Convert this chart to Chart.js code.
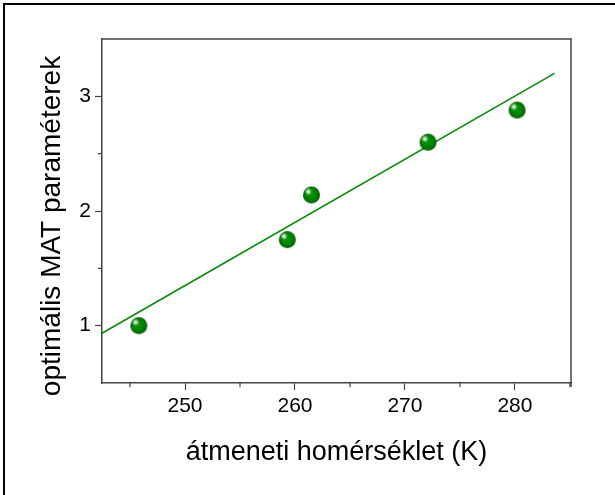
<!DOCTYPE html>
<html>
<head>
<meta charset="utf-8">
<script src="https://cdn.jsdelivr.net/npm/chart.js@4"></script>
<style>
  html, body { margin: 0; padding: 0; background: #fff; }
  #chart { display: block; }
</style>
</head>
<body>
<canvas id="chart" width="615" height="495"></canvas>
<script>
// measured points
const tempK = [245.8, 259.3, 261.5, 272.1, 280.2];
const matParam = [1.0, 1.75, 2.14, 2.6, 2.88];
// fitted line ends
const fitTemp = [242.45, 283.6];
const fitParam = [0.934, 3.2];
const xMajorTicks = [250, 260, 270, 280];
const xMinorTicks = [245, 255, 265, 275, 285];
const yMajorTicks = [1, 2, 3];
const yMinorTicks = [1.5, 2.5];
const yTitle = 'optimális MAT paraméterek';

const axisColor = '#444';
const fontFamily = "'Liberation Sans', Arial, sans-serif";

function makeBall(r) {
  const c = document.createElement('canvas');
  c.width = c.height = r * 2 + 2;
  const g = c.getContext('2d');
  const cx = r + 1, cy = r + 1;
  let grad = g.createRadialGradient(cx - r * 0.2, cy - r * 0.2, 0, cx, cy, r);
  grad.addColorStop(0, '#0a9a0a');
  grad.addColorStop(0.7, '#008000');
  grad.addColorStop(1, '#005c00');
  g.fillStyle = grad;
  g.beginPath();
  g.arc(cx, cy, r, 0, Math.PI * 2);
  g.fill();
  grad = g.createRadialGradient(cx - r * 0.38, cy - r * 0.4, 0, cx - r * 0.38, cy - r * 0.4, r * 0.5);
  grad.addColorStop(0, 'rgba(255,255,255,1)');
  grad.addColorStop(0.35, 'rgba(220,245,220,0.8)');
  grad.addColorStop(1, 'rgba(60,160,60,0)');
  g.fillStyle = grad;
  g.beginPath();
  g.arc(cx, cy, r, 0, Math.PI * 2);
  g.fill();
  return c;
}

const frame = {
  id: 'frame',
  afterDraw(chart) {
    const { ctx, chartArea: a, scales } = chart;
    ctx.save();
    // outer picture frame
    ctx.strokeStyle = '#000';
    ctx.lineWidth = 2;
    ctx.beginPath();
    ctx.moveTo(4, 700);
    ctx.lineTo(4, 4);
    ctx.lineTo(700, 4);
    ctx.stroke();
    // top and right of the plot box
    ctx.strokeStyle = axisColor;
    ctx.lineWidth = 1.5;
    ctx.beginPath();
    ctx.moveTo(a.left, a.top);
    ctx.lineTo(a.right, a.top);
    ctx.lineTo(a.right, a.bottom + 4);
    ctx.stroke();
    // minor ticks
    ctx.lineWidth = 1.2;
    ctx.beginPath();
    xMinorTicks.forEach(v => {
      const x = scales.x.getPixelForValue(v);
      ctx.moveTo(x, a.bottom);
      ctx.lineTo(x, a.bottom + 4);
    });
    yMinorTicks.forEach(v => {
      const y = scales.y.getPixelForValue(v);
      ctx.moveTo(a.left, y);
      ctx.lineTo(a.left - 4, y);
    });
    ctx.stroke();
    // y title sits a bit below the middle of the axis, as in the original
    ctx.translate(52.5, 226);
    ctx.rotate(-Math.PI / 2);
    ctx.fillStyle = '#000';
    ctx.font = '28px ' + fontFamily;
    ctx.textAlign = 'center';
    ctx.textBaseline = 'middle';
    ctx.fillText(yTitle, 0, 0);
    ctx.restore();
  }
};

const ctx = document.getElementById('chart').getContext('2d');
const chart = new Chart(ctx, {
  type: 'scatter',
  data: {
    datasets: [
      {
        label: 'MAT',
        data: tempK.map((t, i) => ({ x: t, y: matParam[i] })),
        pointStyle: makeBall(8.5),
        pointRadius: 9,
        order: 0
      },
      {
        label: 'fit',
        data: fitTemp.map((t, i) => ({ x: t, y: fitParam[i] })),
        showLine: true,
        pointRadius: 0,
        borderColor: '#0a8a0a',
        borderWidth: 1.6,
        order: 1
      }
    ]
  },
  options: {
    responsive: false,
    animation: false,
    layout: { padding: { left: 0, top: 39, right: 44, bottom: 0 } },
    plugins: { legend: { display: false }, tooltip: { enabled: false } },
    scales: {
      x: {
        type: 'linear',
        min: 242.45,
        max: 285.1,
        afterBuildTicks: s => { s.ticks = xMajorTicks.map(v => ({ value: v })); },
        afterFit: s => { s.height = 112; },
        grid: { drawOnChartArea: false, tickLength: 7, tickColor: axisColor, tickWidth: 1.2 },
        border: { color: axisColor, width: 1.5 },
        ticks: { color: '#000', padding: 4, font: { family: fontFamily, size: 21 }, maxRotation: 0 },
        title: {
          display: true,
          text: 'átmeneti homérséklet (K)',
          color: '#000',
          font: { family: fontFamily, size: 27 },
          padding: { top: 0, bottom: 26 }
        }
      },
      y: {
        type: 'linear',
        min: 0.5,
        max: 3.5,
        afterBuildTicks: s => { s.ticks = yMajorTicks.map(v => ({ value: v })); },
        afterFit: s => { s.width = 102; },
        grid: { drawOnChartArea: false, tickLength: 7, tickColor: axisColor, tickWidth: 1.2 },
        border: { color: axisColor, width: 1.5 },
        ticks: { color: '#000', padding: 4, font: { family: fontFamily, size: 21 } },
        title: { display: false }
      }
    }
  },
  plugins: [frame]
});
</script>
</body>
</html>
